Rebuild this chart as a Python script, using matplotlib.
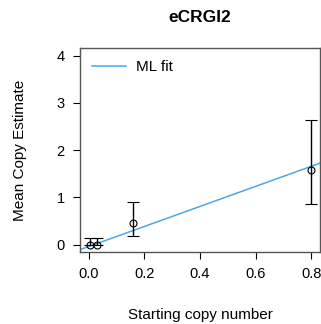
import numpy as np
import matplotlib.pyplot as plt

plt.rcParams['font.family'] = ['Liberation Sans', 'DejaVu Sans']

# data
start_copies = [0.003, 0.03, 0.16, 0.8]
mean_est = [0.0, 0.0, 0.45, 1.57]
err_low = [0.0, 0.0, 0.19, 0.86]
err_high = [0.14, 0.14, 0.89, 2.64]
fit_slope = 2.12
fit_intercept = -0.042
x_ticks = [0.0, 0.2, 0.4, 0.6, 0.8]
y_ticks = [0, 1, 2, 3, 4]

fig = plt.figure(figsize=(3.21, 3.24), dpi=100)
ax = fig.add_axes([0.249, 0.222, 0.748, 0.630])

xlim = (-0.032, 0.832)
ylim = (-0.16, 4.16)

# ML fit line across the whole plot (like abline)
xs = np.array(xlim)
ax.plot(xs, fit_intercept + fit_slope * xs, color='#4aa8e8', lw=1.1, label='ML fit')

yerr = [np.array(mean_est) - np.array(err_low), np.array(err_high) - np.array(mean_est)]
ax.errorbar(start_copies, mean_est, yerr=yerr, fmt='o', mfc='none', mec='black',
            ms=5, mew=0.8, ecolor='black', elinewidth=1, capsize=4.3, capthick=1)

ax.set_xlim(xlim)
ax.set_ylim(ylim)
ax.set_xticks(x_ticks)
ax.set_xticklabels(['0.0', '0.2', '0.4', '0.6', '0.8'])
ax.set_yticks(y_ticks)
ax.tick_params(direction='out', length=5, width=0.8, labelsize=10.5, pad=6)
for s in ax.spines.values():
    s.set_color('#555555')
    s.set_linewidth(1)

ax.set_title('eCRGI2', fontsize=12.5, fontweight='bold', pad=19)
ax.set_xlabel('Starting copy number', fontsize=11, labelpad=19)
ax.set_ylabel('Mean Copy Estimate', fontsize=11, labelpad=21)
ax.legend(loc='upper left', frameon=False, fontsize=11, handlelength=2.2,
          borderaxespad=0.4, handletextpad=0.7)

plt.savefig('out.png', dpi=100)
